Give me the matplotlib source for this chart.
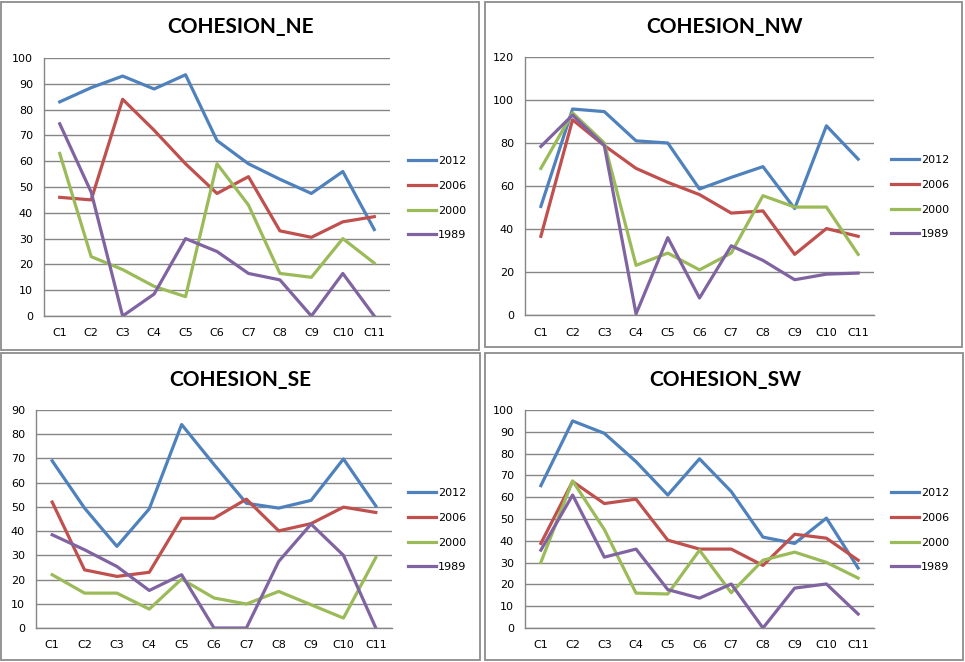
import matplotlib
matplotlib.use("Agg")
import matplotlib.pyplot as plt
from matplotlib.patches import Rectangle

W, H = 965, 662
DPI = 100

categories = ["C1", "C2", "C3", "C4", "C5", "C6", "C7", "C8", "C9", "C10", "C11"]
years = ["2012", "2006", "2000", "1989"]
colors = ["#4F81BD", "#C0504D", "#9BBB59", "#8064A2"]

ne_2012 = [83, 88.5, 93, 88, 93.5, 68, 59, 53, 47.5, 56, 33.5]
ne_2006 = [46, 45, 84, 72, 59, 47.5, 54, 33, 30.5, 36.5, 38.5]
ne_2000 = [63, 23, 18, 11.5, 7.5, 59, 43, 16.5, 15, 30, 20.5]
ne_1989 = [74.5, 48, 0, 8.5, 30, 25, 16.5, 14, 0, 16.5, 0]

nw_2012 = [50.5, 95.8, 94.6, 81, 80, 58.6, 64, 69, 49.5, 88, 72.5]
nw_2006 = [36.6, 90.8, 78.8, 68.2, 61.7, 56, 47.4, 48.4, 28.2, 40.2, 36.6]
nw_2000 = [68.2, 94, 80, 23.1, 28.8, 21, 28.8, 55.5, 50.2, 50.2, 28.2]
nw_1989 = [78.4, 93, 78.8, 0.5, 36, 7.9, 32.2, 25.4, 16.4, 19, 19.5]

se_2012 = [69, 49.5, 33.7, 49.2, 84, 67.5, 51.5, 49.5, 52.7, 69.8, 50.4]
se_2006 = [52, 24, 21.3, 23, 45.3, 45.3, 53.2, 40.1, 43.1, 49.9, 47.7]
se_2000 = [22, 14.4, 14.4, 7.8, 20.2, 12.4, 9.9, 15.1, 9.6, 4.1, 29.1]
se_1989 = [38.5, 32.3, 25.4, 15.5, 22, 0, 0, 27.5, 42.9, 30, 0]

sw_2012 = [65.3, 95, 89.3, 76.3, 61, 77.6, 62.6, 41.7, 38.8, 50.4, 27.5]
sw_2006 = [38.8, 67.2, 57.1, 59.1, 40.3, 36.2, 36.2, 28.7, 43, 41.2, 31.1]
sw_2000 = [30.1, 67.5, 45.2, 16, 15.6, 35.7, 16.2, 31.1, 34.8, 30.1, 22.9]
sw_1989 = [35.7, 61, 32.5, 36.2, 17.6, 13.7, 20.2, 0, 18.3, 20.2, 6.4]

panels = [
    # title, series, ymax, step, frame(x0,y0,x1,y1), plot(x0,x1,ytop,ybot), title xy, legend xy
    ("COHESION_NE", [ne_2012, ne_2006, ne_2000, ne_1989], 100, 10,
     (1, 2, 479, 350), (44, 390, 58, 316), (240, 27), (408, 156)),
    ("COHESION_NW", [nw_2012, nw_2006, nw_2000, nw_1989], 120, 20,
     (485, 2, 962, 347), (525, 874, 57, 315), (725, 27), (891, 155)),
    ("COHESION_SE", [se_2012, se_2006, se_2000, se_1989], 90, 10,
     (1, 353, 480, 660), (36, 392, 410, 628), (240, 380), (408, 488)),
    ("COHESION_SW", [sw_2012, sw_2006, sw_2000, sw_1989], 100, 10,
     (485, 353, 963, 660), (525, 874, 410, 628), (725, 380), (891, 488)),
]

fig = plt.figure(figsize=(W / DPI, H / DPI), dpi=DPI)
fig.patch.set_facecolor("white")

grid_c = "#868686"

for title, series, ymax, step, frame, plot, txy, lxy in panels:
    fx0, fy0, fx1, fy1 = frame
    fig.patches.append(Rectangle((fx0 / W, 1 - fy1 / H), (fx1 - fx0) / W, (fy1 - fy0) / H,
                                 transform=fig.transFigure, fill=False,
                                 edgecolor="#8C8C8C", linewidth=1.3))
    px0, px1, pyt, pyb = plot
    ax = fig.add_axes([px0 / W, 1 - pyb / H, (px1 - px0) / W, (pyb - pyt) / H])
    x = list(range(len(categories)))
    for vals, yr, c in zip(series, years, colors):
        ax.plot(x, vals, color=c, linewidth=2.3, label=yr, solid_joinstyle="round")
    ax.set_xlim(-0.5, len(categories) - 0.5)
    ax.set_ylim(0, ymax)
    ax.set_yticks(range(0, ymax + 1, step))
    ax.set_xticks(x)
    ax.set_xticklabels(categories)
    ax.tick_params(axis="both", length=0, labelsize=8, colors="black")
    ax.tick_params(axis="y", pad=8)
    ax.tick_params(axis="x", pad=9)
    ax.yaxis.grid(True, color=grid_c, linewidth=1.0)
    ax.set_axisbelow(True)
    for s in ["top", "right"]:
        ax.spines[s].set_visible(False)
    for s in ["left", "bottom"]:
        ax.spines[s].set_color(grid_c)
        ax.spines[s].set_linewidth(1.0)
    fig.text(txy[0] / W, 1 - txy[1] / H, title, ha="center", va="center",
             fontsize=15, fontweight="bold", family="Lato")
    ax.legend(loc="upper left", bbox_to_anchor=(lxy[0] / W, 1 - lxy[1] / H),
              bbox_transform=fig.transFigure, frameon=False, fontsize=8,
              handlelength=2.5, handletextpad=0.2, labelspacing=1.33,
              borderpad=0, borderaxespad=0)

fig.savefig("out.png", dpi=DPI, facecolor="white")
